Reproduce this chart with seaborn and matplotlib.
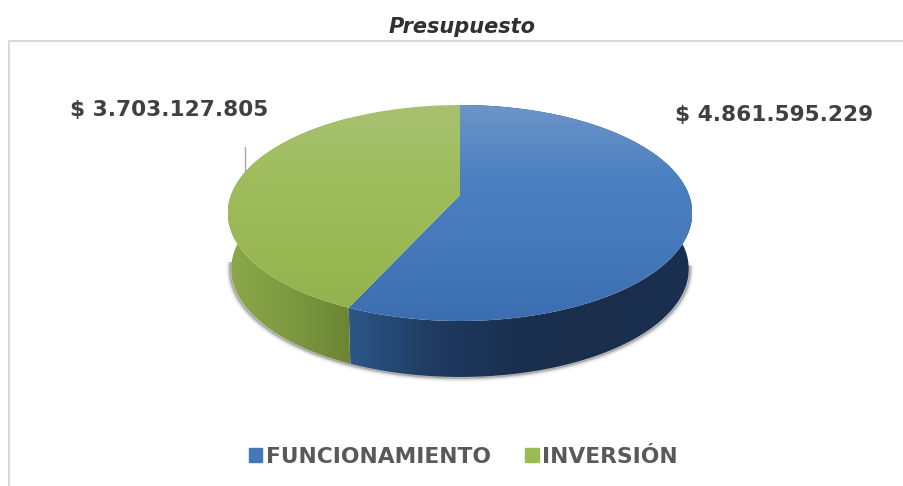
import numpy as np
import matplotlib
matplotlib.use("Agg")
import matplotlib.pyplot as plt
from matplotlib.colors import LinearSegmentedColormap
from matplotlib.patches import PathPatch, Patch
from matplotlib.path import Path
import seaborn as sns

categories = ["FUNCIONAMIENTO", "INVERSIÓN"]
values = [4861595229, 3703127805]
value_labels = ["$ 4.861.595.229", "$ 3.703.127.805"]

sns.set_theme(style="white")
plt.rcParams["font.family"] = ["DejaVu Sans"]

top_colors = [["#6c94c9", "#4b80c1", "#4579bb", "#3a6eb0"],
              ["#a8c172", "#9fbd5c", "#99b854", "#92af4b"]]
wall_colors = [["#2d5788", "#1f3b60", "#1a2f4e", "#1a2e4c", "#1b3050"],
               ["#8ca849", "#7d9a41", "#6b8533"]]
legend_colors = ["#4478b9", "#9aba56"]

fig = plt.figure(figsize=(9.04, 4.86), dpi=100)
ax = fig.add_axes([0, 0, 1, 1])

wedges, _ = ax.pie(values, startangle=90, counterclock=False, colors=legend_colors)
for w in wedges:
    w.set_visible(False)

ax.set_aspect("auto")


def rim(t, scale=1.0, shift=0.0):
    # perspective of the unit circle, that is why the apex is not in the ellipse center
    k = 1 / 6
    x, y = np.cos(t), np.sin(t)
    d = 1 + k * y
    return 460 + 229 * scale * x / d, 195 - 105 * y / d + shift


def gradient(colors, clip, box, horizontal, z):
    cmap = LinearSegmentedColormap.from_list("g", colors)
    g = np.linspace(0, 1, 256).reshape(-1, 1)
    if horizontal:
        g = g.T
    im = ax.imshow(g, cmap=cmap, extent=box, aspect="auto", zorder=z, interpolation="bilinear")
    im.set_clip_path(clip)


# shadow under the pie, only the lower edge
tt = np.linspace(-np.pi * 0.97, -np.pi * 0.04, 300)
sx, sy = rim(tt, 0.99, 57)
for lw, a in zip([6, 4.5, 3.2, 2, 1], [0.03, 0.05, 0.08, 0.12, 0.2]):
    ax.plot(sx, sy, color="#303030", lw=lw, alpha=a, zorder=1, solid_capstyle="butt")

# leader line
ax.plot([245, 245], [147, 180], color="#a6a6a6", lw=1, zorder=1)

for i, w in enumerate(wedges):
    t = np.radians(np.linspace(w.theta1, w.theta2, 300))

    # side wall
    x1, y1 = rim(t)
    x2, y2 = rim(t[::-1], 0.985, 56)
    wall = PathPatch(Path(np.column_stack([np.r_[x1, x2], np.r_[y1, y2]]), closed=False),
                     fc="none", ec="none", zorder=2)
    ax.add_patch(wall)
    box = (347, 692, 400, 100) if i == 0 else (228, 350, 400, 100)
    gradient(wall_colors[i], wall, box, True, 2)

    # top surface
    px, py = rim(t)
    verts = np.column_stack([np.r_[460, px, 460], np.r_[195, py, 195]])
    top = PathPatch(Path(verts), fc="none", ec="none", zorder=3)
    ax.add_patch(top)
    gradient(top_colors[i], top, (228, 692, 322, 105), False, 3)

ax.set_xlim(0, 904)
ax.set_ylim(486, 0)
ax.axis("off")

# chart frame
ax.plot([9, 9, 910], [490, 41, 41], color="#d9d9d9", lw=1.5, zorder=0)

ax.text(462, 27, "Presupuesto", ha="center", va="center", fontsize=15,
        fontweight="bold", fontstyle="italic", color="#303030")
ax.text(774, 115, value_labels[0], ha="center", va="center", fontsize=15.6,
        fontweight="bold", color="#404040")
ax.text(169, 110, value_labels[1], ha="center", va="center", fontsize=15.6,
        fontweight="bold", color="#404040")

handles = [Patch(color=c, label=n) for c, n in zip(legend_colors, categories)]
leg = ax.legend(handles=handles, ncols=2, loc="center", frameon=False,
                bbox_to_anchor=(463.3 / 904, 1 - 457 / 486), fontsize=15.7,
                handlelength=0.62, handleheight=0.62, handletextpad=0.15, columnspacing=1.59)
for txt in leg.get_texts():
    txt.set_fontweight("bold")
    txt.set_color("#595959")

fig.savefig("out.png", dpi=100)
